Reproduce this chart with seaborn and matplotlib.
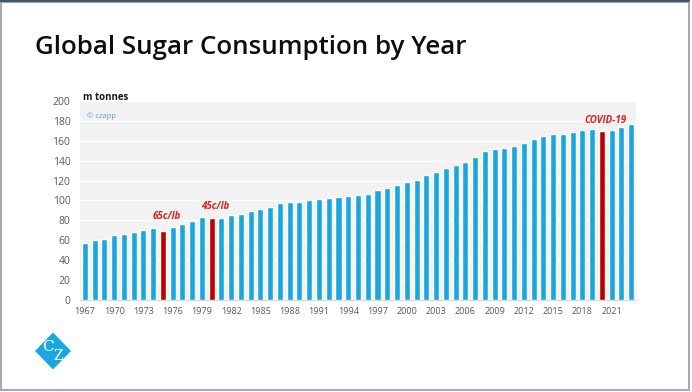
import matplotlib
matplotlib.use("Agg")
import matplotlib.pyplot as plt
from matplotlib.patches import Polygon, Rectangle
from matplotlib.lines import Line2D
import seaborn as sns
import pandas as pd

years = list(range(1967, 2024))
consumption = [57.2, 59.8, 61.8, 64.9, 66.6, 67.9, 70.6, 71.9, 69.6, 73.6,
               76.3, 79.3, 83.0, 82.4, 82.7, 85.7, 86.7, 89.1, 91.1, 93.5,
               97.5, 98.8, 98.8, 100.5, 101.5, 102.9, 103.2, 104.2, 105.2, 106.9,
               110.9, 113.0, 116.0, 118.3, 121.0, 125.6, 128.8, 132.2, 135.8, 138.8,
               144.2, 149.6, 151.3, 153.2, 154.6, 157.8, 161.4, 164.4, 167.1, 167.1,
               168.7, 170.8, 171.8, 169.8, 171.1, 173.5, 176.5]
highlight_years = [1975, 1980, 2020]
annotations = {1975: ("65c/lb", 83.7), 1980: ("45c/lb", 93.5), 2020: ("COVID-19", 180.5)}
tick_years = list(range(1967, 2022, 3))

BLUE = "#1aa7e0"
RED = "#c00000"

df = pd.DataFrame({
    "year": [str(y) for y in years],
    "value": consumption,
    "kind": ["event" if y in highlight_years else "normal" for y in years],
})

sns.set_theme(style="white")
plt.rcParams["font.family"] = ["Open Sans", "DejaVu Sans"]

W, H = 692, 392
fig = plt.figure(figsize=(W / 100, H / 100), dpi=100)
fig.patch.set_facecolor("white")
ax = fig.add_axes([80 / W, (H - 300) / H, 556 / W, 199 / H])
ax.set_facecolor("#f2f2f2")

sns.barplot(data=df, x="year", y="value", hue="kind",
            palette={"normal": BLUE, "event": RED}, dodge=False,
            width=0.62, legend=False, ax=ax, saturation=1, zorder=3)

ax.set_xlim(-0.5, len(years) - 0.5)
ax.set_ylim(0, 200)
ax.set_yticks(range(0, 201, 20))
ax.yaxis.grid(True, color="white", linewidth=1.0, zorder=0)
ax.set_axisbelow(True)
ax.tick_params(axis="y", length=0, pad=7, labelsize=7.5, labelcolor="#595959")

pos = [years.index(y) for y in tick_years]
ax.set_xticks(pos)
ax.set_xticklabels([str(y) for y in tick_years])
ax.set_xticks([p - 0.5 for p in range(0, len(years) + 1, 3)], minor=True)
ax.tick_params(axis="x", which="major", length=0, pad=5, labelsize=6.5, labelcolor="#595959")
ax.tick_params(axis="x", which="minor", length=3, color="#d0d0d0", width=0.8, direction="out")

for s in ["top", "right", "left"]:
    ax.spines[s].set_visible(False)
ax.spines["bottom"].set_color("#d9d9d9")
ax.spines["bottom"].set_linewidth(0.8)
ax.set_xlabel("")
ax.set_ylabel("")

for y, (txt, v) in annotations.items():
    ax.text(years.index(y) + 0.4, v, txt, color="#e0201b", fontsize=7,
            fontweight="bold", fontstyle="italic", ha="center", va="center", zorder=4)

fig.text(83 / W, 1 - 97 / H, "m tonnes", fontsize=7, fontweight="bold",
         color="#1a1a1a", ha="left", va="center")
ax.text(0.012, 0.925, "© czapp", transform=ax.transAxes, fontsize=5.5,
        color="#5b9bd5", ha="left", va="center")

fig.text(35 / W, 1 - 48 / H, "Global Sugar Consumption by Year", fontsize=18.6,
         fontweight="semibold", color="#0d0d0d", ha="left", va="center")

# logo
cx, cy, hw, hh = 53 / W, 1 - 351 / H, 18 / W, 18.5 / H
fig.patches.append(Polygon([[cx - hw, cy], [cx, cy + hh], [cx + hw, cy], [cx, cy - hh]],
                           closed=True, transform=fig.transFigure,
                           facecolor=BLUE, edgecolor="none"))
fig.text(cx - 5 / W, cy + 4 / H, "C", fontsize=11, color="white", family="DejaVu Serif",
         ha="center", va="center")
fig.text(cx + 5.5 / W, cy - 5 / H, "Z", fontsize=10, color="white", family="DejaVu Serif",
         ha="center", va="center")

# frame
fig.patches.append(Rectangle((0.5 / W, 2.5 / H), 688.5 / W, 388 / H, transform=fig.transFigure,
                             facecolor="none", edgecolor="#a8a8b4", linewidth=1.5))
fig.lines.append(Line2D([0, 689 / W], [1 - 1 / H, 1 - 1 / H], transform=fig.transFigure,
                        color="#44546a", linewidth=1.5))

fig.savefig("out.png", dpi=100, facecolor="white")
